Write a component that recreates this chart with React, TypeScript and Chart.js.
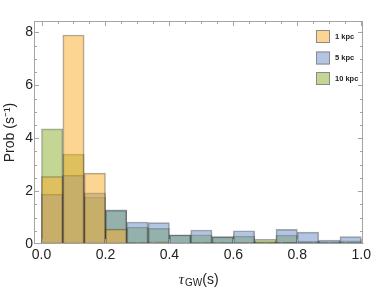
import React, { useEffect, useRef } from 'react';
import { Chart, registerables } from 'chart.js';

Chart.register(...registerables);

// Histogram bins (lower edges), bin width 1/15 s
const binWidth = 1 / 15;
const binLeft = [0, 1 / 15, 2 / 15, 3 / 15, 4 / 15, 5 / 15, 6 / 15, 7 / 15, 8 / 15, 9 / 15, 10 / 15, 11 / 15, 12 / 15, 13 / 15, 14 / 15, 15 / 15];

const seriesLabels = ['1 kpc', '5 kpc', '10 kpc'];
const kpc1 = [2.55, 7.9, 2.68, 0.56, 0.05, 0.08, 0.03, 0.05, 0.05, 0.05, 0.07, 0.06, 0.05, 0.05, 0.05, 0.02];
const kpc5 = [1.88, 2.6, 1.93, 1.29, 0.83, 0.81, 0.34, 0.53, 0.27, 0.5, 0.08, 0.55, 0.45, 0.15, 0.28, 0.06];
const kpc10 = [4.35, 3.4, 1.77, 1.26, 0.64, 0.59, 0.35, 0.35, 0.28, 0.3, 0.18, 0.34, 0.11, 0.09, 0.12, 0.04];

const xTickValues = [0, 0.2, 0.4, 0.6, 0.8, 1.0];
const yTickValues = [0, 2, 4, 6, 8];

const colors = ['rgba(249,172,39,0.5)', 'rgba(104,140,196,0.5)', 'rgba(155,186,77,0.6)'];
const edge = 'rgba(30,30,30,0.4)';
const frameColor = '#a3a3a3';
const textColor = '#222';

const framePlugin = {
  id: 'frameTicks',
  afterDraw(chart: any) {
    const { ctx, chartArea: a, scales } = chart;
    const x = scales.x;
    const y = scales.y;
    ctx.save();
    ctx.strokeStyle = frameColor;
    ctx.lineWidth = 1;
    const L = Math.round(a.left) + 0.5;
    const R = Math.round(a.right) - 0.5;
    const T = Math.round(a.top) + 0.5;
    const B = Math.round(a.bottom) - 0.5;
    ctx.strokeRect(L, T, R - L, B - T);
    ctx.beginPath();
    // x ticks (major 0.2, minor 0.05)
    for (let k = 0; k <= 20; k++) {
      const v = k * 0.05;
      const px = Math.round(x.getPixelForValue(v)) + 0.5;
      if (px < L || px > R) continue;
      const len = k % 4 === 0 ? 4.5 : 2.5;
      ctx.moveTo(px, B);
      ctx.lineTo(px, B - len);
      ctx.moveTo(px, T);
      ctx.lineTo(px, T + len);
    }
    // y ticks (major 2, minor 0.5)
    for (let k = 0; k <= 16; k++) {
      const v = k * 0.5;
      const py = Math.round(y.getPixelForValue(v)) + 0.5;
      if (py < T || py > B) continue;
      const len = k % 4 === 0 ? 4.5 : 2.5;
      ctx.moveTo(L, py);
      ctx.lineTo(L + len, py);
      ctx.moveTo(R, py);
      ctx.lineTo(R - len, py);
    }
    ctx.stroke();

    // legend
    const lx = 316;
    const rows = [30, 51.5, 72];
    ctx.font = 'bold 7.5px "Liberation Sans", Arial, sans-serif';
    ctx.textBaseline = 'middle';
    ctx.textAlign = 'left';
    seriesLabels.forEach((lab, i) => {
      const ty = rows[i];
      ctx.fillStyle = '#ffffff';
      ctx.fillRect(lx, ty, 14, 13);
      ctx.fillStyle = colors[i];
      ctx.fillRect(lx, ty, 14, 13);
      ctx.strokeStyle = '#8a8a8a';
      ctx.strokeRect(lx + 0.5, ty + 0.5, 13, 12);
      ctx.fillStyle = textColor;
      ctx.fillText(lab, lx + 19, ty + 6.5);
    });

    // x-axis title: τ_GW(s)
    const cx = (a.left + a.right) / 2;
    const base = 284;
    const fTau = 'italic 15px "Liberation Serif", "Times New Roman", serif';
    const fSub = '10px "Liberation Sans", Arial, sans-serif';
    const fMain = '14px "Liberation Sans", Arial, sans-serif';
    ctx.textBaseline = 'alphabetic';
    ctx.font = fTau;
    const w1 = ctx.measureText('τ').width;
    ctx.font = fSub;
    const w2 = ctx.measureText('GW').width;
    ctx.font = fMain;
    const w3 = ctx.measureText('(s)').width;
    let sx = cx - (w1 + w2 + w3 + 1) / 2;
    ctx.fillStyle = textColor;
    ctx.font = fTau;
    ctx.fillText('τ', sx, base);
    sx += w1 + 1;
    ctx.font = fSub;
    ctx.fillText('GW', sx, base + 2);
    sx += w2;
    ctx.font = fMain;
    ctx.fillText('(s)', sx, base);
    ctx.restore();
  },
};

export default function App() {
  const ref = useRef<HTMLCanvasElement | null>(null);

  useEffect(() => {
    if (!ref.current) return;
    const mk = (vals: number[], i: number) => ({
      label: seriesLabels[i],
      data: binLeft.map((l, j) => ({ x: l + binWidth / 2, y: vals[j] })),
      backgroundColor: colors[i],
      borderColor: edge,
      borderWidth: 1,
      borderSkipped: false,
      barPercentage: 1,
      categoryPercentage: 1,
      grouped: false,
      clip: 0,
    });
    const tickFont = { family: '"Liberation Sans", Arial, sans-serif', size: 14 };
    const chart = new Chart(ref.current, {
      type: 'bar',
      data: { datasets: [mk(kpc1, 0), mk(kpc5, 1), mk(kpc10, 2)] as any },
      options: {
        responsive: false,
        animation: false,
        devicePixelRatio: 1,
        layout: { padding: { left: 0, right: 3, top: 21, bottom: 0 } },
        plugins: { legend: { display: false }, tooltip: { enabled: false } },
        scales: {
          x: {
            type: 'linear',
            offset: false,
            min: -0.0235,
            max: 1.006,
            grid: { display: false, drawTicks: false, offset: false },
            border: { display: false },
            ticks: {
              padding: 3,
              font: tickFont,
              color: textColor,
              maxRotation: 0,
              autoSkip: false,
              callback: (v: any) => Number(v).toFixed(1),
            },
            afterBuildTicks: (s: any) => {
              s.ticks = xTickValues.map((v) => ({ value: v }));
            },
            afterFit: (s: any) => {
              s.height = 43;
            },
          },
          y: {
            type: 'linear',
            min: 0,
            max: 8.43,
            grid: { display: false, drawTicks: false },
            border: { display: false },
            ticks: {
              padding: 1,
              font: tickFont,
              color: textColor,
              callback: (v: any) => String(v),
            },
            afterBuildTicks: (s: any) => {
              s.ticks = yTickValues.map((v) => ({ value: v }));
            },
            afterFit: (s: any) => {
              s.width = 34;
            },
            title: {
              display: true,
              text: 'Prob (s⁻¹)',
              font: tickFont,
              color: textColor,
              padding: { top: 2, bottom: 0 },
            },
          },
        },
      } as any,
      plugins: [framePlugin],
    });
    return () => chart.destroy();
  }, []);

  return (
    <div style={{ position: 'fixed', left: 0, top: 0, width: 374, height: 287, background: '#fff' }}>
      <canvas ref={ref} width={374} height={287} style={{ display: 'block' }} />
    </div>
  );
}
